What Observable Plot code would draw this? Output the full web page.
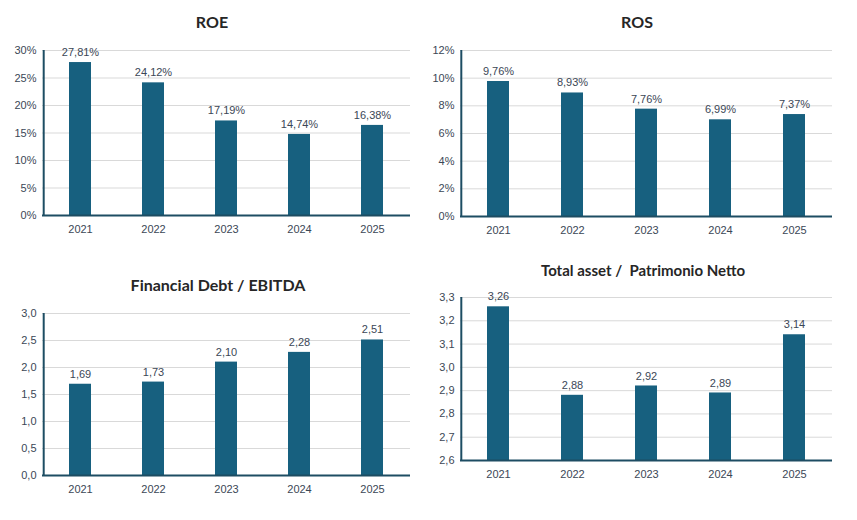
<!DOCTYPE html>
<html><head><meta charset="utf-8">
<script src="https://cdn.jsdelivr.net/npm/d3@7"></script>
<script src="https://cdn.jsdelivr.net/npm/@observablehq/plot@0.6"></script>
<style>
body{margin:0;background:#fff;width:857px;height:520px;position:relative;overflow:hidden;font-family:"Liberation Sans",Arial,sans-serif}
.p{position:absolute}
.t{position:absolute;font-family:Lato,"Open Sans",sans-serif;font-weight:bold;color:#262626;font-size:16px;transform:translateX(-50%);white-space:pre}
</style></head><body>
<div class="t" style="left:212px;top:12px">ROE</div>
<div class="t" style="left:637px;top:12px">ROS</div>
<div class="t" style="left:218px;top:275px">Financial Debt / EBITDA</div>
<div class="t" style="left:643px;top:261px;font-size:15px">Total asset /  Patrimonio Netto</div>
<div class="p" id="a" style="left:0;top:40px"></div>
<div class="p" id="b" style="left:418px;top:40px"></div>
<div class="p" id="c" style="left:0;top:303px"></div>
<div class="p" id="d" style="left:418px;top:287px"></div>
<script>
const years=["2021","2022","2023","2024","2025"];
const roe=[27.81,24.12,17.19,14.74,16.38];
const ros=[9.76,8.93,7.76,6.99,7.37];
const debtEbitda=[1.69,1.73,2.10,2.28,2.51];
const assetPn=[3.26,2.88,2.92,2.89,3.14];
const roeTicks=[0,5,10,15,20,25,30];
const rosTicks=[0,2,4,6,8,10,12];
const debtTicks=[0,0.5,1,1.5,2,2.5,3];
const assetTicks=[2.6,2.7,2.8,2.9,3.0,3.1,3.2,3.3];
const BAR="#17607f", AX="#1d4d63", TXT="#3b4756";
const comma=(v,d)=>v.toFixed(d).replace(".",",");
function chart(el,vals,ticks,base,tickFmt,lblFmt,h,w){
  const data=years.map((y,i)=>({y,v:vals[i]}));
  const step=(w-42-18)/5;
  const p=Plot.plot({
    width:w,height:h,marginLeft:42,marginRight:18,marginTop:10,marginBottom:30,
    style:{fontFamily:"Liberation Sans, Arial, sans-serif",fontSize:"11px",color:TXT},
    x:{domain:years,paddingInner:0.7,paddingOuter:0.35,label:null,tickSize:0,tickPadding:10},
    y:{domain:[ticks[0],ticks[ticks.length-1]],ticks:ticks,tickFormat:tickFmt,label:null,tickSize:0,tickPadding:6},
    marks:[
      Plot.gridY(ticks.slice(1),{stroke:"#d9d9d9",strokeOpacity:1}),
      Plot.barY(data,{x:"y",y1:()=>base,y2:"v",fill:BAR}),
      Plot.text(data,{x:"y",y:"v",text:d=>lblFmt(d.v),dy:-10,fill:TXT,fontSize:11}),
      Plot.ruleY([base],{stroke:AX,strokeWidth:2}),
      Plot.ruleX([years[0]],{stroke:AX,strokeWidth:2,dx:-step/2,y1:ticks[0],y2:ticks[ticks.length-1]})
    ]
  });
  document.getElementById(el).appendChild(p);
}
chart("a",roe,roeTicks,0,d=>d+"%",v=>comma(v,2)+"%",205,428);
chart("b",ros,rosTicks,0,d=>d+"%",v=>comma(v,2)+"%",206,432);
chart("c",debtEbitda,debtTicks,0,d=>comma(d,1),v=>comma(v,2),202,428);
chart("d",assetPn,assetTicks,2.6,d=>comma(d,1),v=>comma(v,2),203,432);
</script></body></html>
